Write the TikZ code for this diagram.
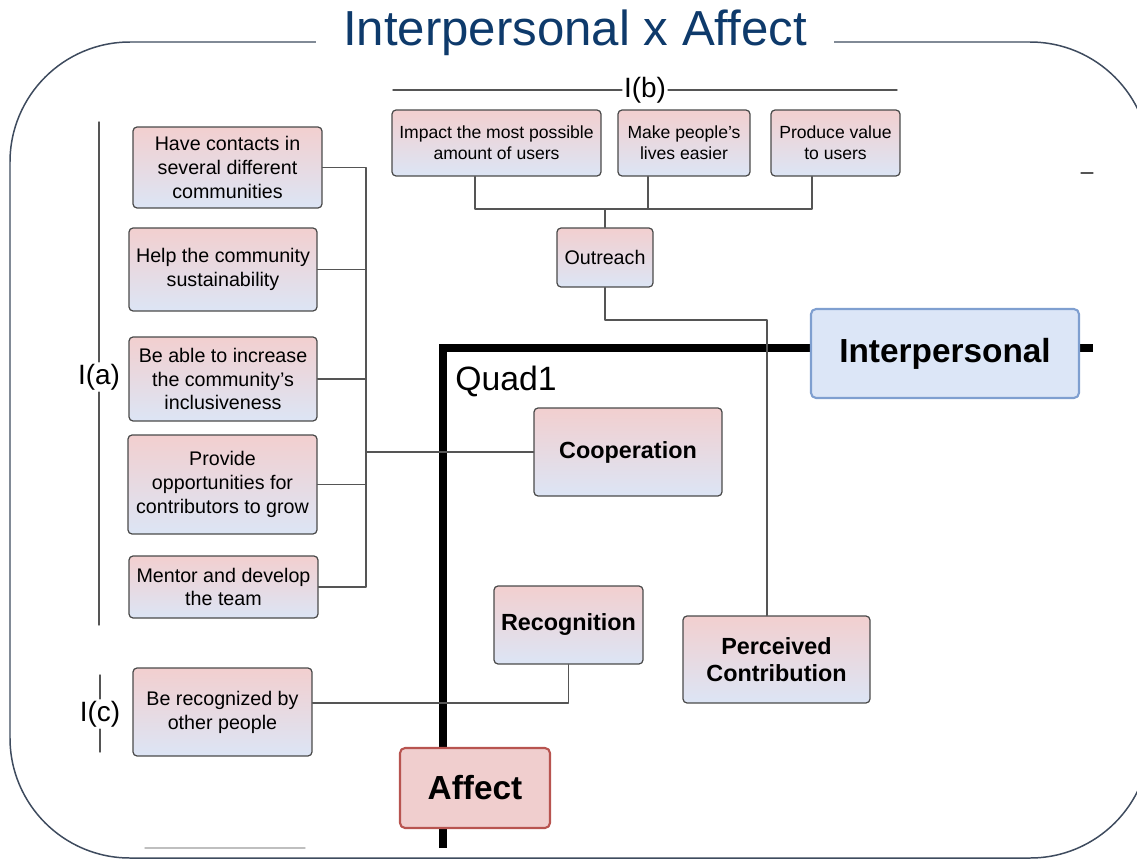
\documentclass[tikz,border=0pt]{standalone}
\usepackage{fontspec}
\setmainfont{Liberation Sans}
\definecolor{titleblue}{HTML}{0E3A6B}
\definecolor{boxpink}{HTML}{F2CFCF}
\definecolor{boxblue}{HTML}{DCE5F5}
\definecolor{boxedge}{HTML}{4A4A4A}
\definecolor{linkgray}{HTML}{555555}
\definecolor{framegray}{HTML}{3E4B5E}
\definecolor{interpfill}{HTML}{DCE6F7}
\definecolor{interpedge}{HTML}{7F9FD0}
\definecolor{affectfill}{HTML}{F0CECE}
\definecolor{affectedge}{HTML}{B85450}

\begin{document}
\begin{tikzpicture}[line cap=round,line join=round,x=0.02cm,y=-0.02cm,
  box/.style={draw=boxedge,line width=0.7pt,rounded corners=0.08cm,top color=boxpink,bottom color=boxblue,align=center,inner sep=2pt,font=\fontsize{11.2}{13.6}\selectfont},
  smallbox/.style={box,font=\fontsize{10}{12}\selectfont},
  keybox/.style={box,font=\bfseries\fontsize{13.3}{15.3}\selectfont},
  axisbox/.style={line width=1.2pt,rounded corners=0.1cm,align=center,font=\bfseries\fontsize{19}{22}\selectfont},
  link/.style={draw=linkgray,line width=0.8pt},
  axis/.style={line width=5pt,line cap=butt,line join=miter},
  brace/.style={draw=linkgray,line width=0.8pt},
  tag/.style={inner sep=1pt,font=\fontsize{15.9}{18}\selectfont}]
\useasboundingbox (0,0) rectangle (1137,859);
\clip (0,0) rectangle (1137,859);

\draw[framegray,line width=0.85pt,rounded corners=2.4cm] (10,42) rectangle (1150,858);
\draw (575,33) node[fill=white,inner xsep=0.55cm,text=titleblue,font=\fontsize{28}{32}\selectfont] (title) {Interpersonal x Affect};
\draw[linkgray,line width=0.6pt] (1081,173) -- (1093,173);
\draw[gray!50,line width=0.8pt] (145,848) -- (305,848);

\draw[axis] (443,848) -- (443,348) -- (1093,348);
\draw (506,381) node[font=\fontsize{19.2}{22}\selectfont] (quad) {Quad1};

\draw (227.5,167.5) node[box,minimum width=3.78cm,minimum height=1.62cm] (have) {Have contacts in\\ several different\\ communities};
\draw (223,269.5) node[box,minimum width=3.76cm,minimum height=1.66cm] (help) {Help the community\\ sustainability};
\draw (223,379) node[box,minimum width=3.76cm,minimum height=1.68cm] (incl) {Be able to increase\\ the community's\\ inclusiveness};
\draw (222.5,484.5) node[box,minimum width=3.78cm,minimum height=1.98cm] (grow) {Provide\\ opportunities for\\ contributors to grow};
\draw (223.5,587) node[box,minimum width=3.78cm,minimum height=1.24cm] (mentor) {Mentor and develop\\ the team};
\draw (222.5,712) node[box,minimum width=3.58cm,minimum height=1.76cm] (berec) {Be recognized by\\ other people};
\draw (496.5,143) node[smallbox,minimum width=4.18cm,minimum height=1.32cm] (impact) {Impact the most possible\\ amount of users};
\draw (684,143) node[smallbox,minimum width=2.64cm,minimum height=1.32cm] (easier) {Make people's\\ lives easier};
\draw (835.5,143) node[smallbox,minimum width=2.58cm,minimum height=1.32cm] (value) {Produce value\\ to users};
\draw (605,257.5) node[box,minimum width=1.92cm,minimum height=1.18cm] (outreach) {Outreach};
\draw (628,452) node[keybox,minimum width=3.76cm,minimum height=1.76cm] (coop) {Cooperation};
\draw (568.5,625) node[keybox,minimum width=2.98cm,minimum height=1.56cm] (recog) {Recognition};
\draw (776.5,659.5) node[keybox,minimum width=3.74cm,minimum height=1.74cm] (perc) {Perceived\\ Contribution};
\draw (945,353.5) node[axisbox,draw=interpedge,fill=interpfill,minimum width=5.36cm,minimum height=1.78cm] (interp) {Interpersonal};
\draw (475,788) node[axisbox,draw=affectedge,fill=affectfill,minimum width=3cm,minimum height=1.6cm] (affect) {Affect};

\coordinate (bustop) at (366,167);
\coordinate (tbus) at (605,209);
\coordinate (pbend) at (767,320);
\draw[link] (have.east) -| (mentor.east -| bustop) -- (mentor.east);
\foreach \n in {help,incl,grow}
  \draw[link] (\n.east) -- (\n.east -| bustop);
\draw[link] (coop.west) -- (coop.west -| bustop);
\draw[link] ([xshift=-0.43cm]impact.south) |- (tbus) -| ([xshift=-0.47cm]value.south);
\draw[link] ([xshift=-0.72cm]easier.south) |- (tbus);
\draw[link] (tbus) -- (outreach.north);
\draw[link] (outreach.south) |- (pbend) -- (pbend |- perc.north);
\draw[link] (recog.south) |- ([yshift=0.18cm]berec.east);

\draw (99,377) node[tag] (ia) {I(a)};
\draw (645,90) node[tag] (ib) {I(b)};
\draw (100,714) node[tag] (ic) {I(c)};
\draw[brace] (99,122) -- (ia) -- (99,625);
\draw[brace] (393,90) -- (ib) -- (897,90);
\draw[brace] (100,675) -- (ic) -- (100,752);
\end{tikzpicture}
\end{document}
